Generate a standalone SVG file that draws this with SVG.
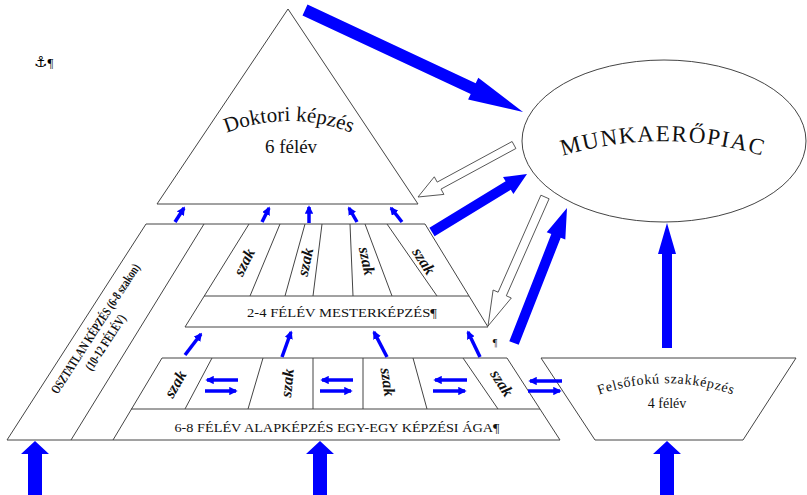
<svg xmlns="http://www.w3.org/2000/svg" width="807" height="495" viewBox="0 0 807 495">
<style>
.ln{fill:none;stroke:#444;stroke-width:1}
.shape{fill:#fff;stroke:#444;stroke-width:1}
.blue{fill:#0000FF;stroke:none}
.hollow{fill:#fff;stroke:#444;stroke-width:0.9}
.sa{stroke:#0000FF;stroke-width:3.5;fill:none;marker-end:url(#ah)}
.serif{font-family:"Liberation Serif","Times New Roman",serif;fill:#111}
.szak{font-family:"Liberation Serif","Times New Roman",serif;font-weight:bold;font-style:italic;font-size:16px;text-anchor:middle;dominant-baseline:central;fill:#111}
.band{font-family:"Liberation Serif","Times New Roman",serif;font-size:12px;text-anchor:middle;fill:#111}
</style>
<defs>
<marker id="ah" viewBox="0 0 10 10" refX="8" refY="5" markerWidth="2.4" markerHeight="2.4" orient="auto" markerUnits="strokeWidth">
<path d="M0,0 L10,5 L0,10 z" fill="#0000FF"/>
</marker>
<path id="arcD" d="M213,139 A170,170 0 0 1 365,139"/>
<path id="arcM" d="M556,158 A350,350 0 0 1 770,158"/>
<path id="arcF" d="M593,397 A200,200 0 0 1 739,397"/>
</defs>
<rect width="807" height="495" fill="#fff"/>

<g id="anchor-mark">
<text x="34" y="67" font-size="15"><tspan font-family="DejaVu Sans,sans-serif">⚓</tspan><tspan font-family="Liberation Serif,serif" font-size="13">¶</tspan></text>
</g>

<g id="doktori">
<polygon class="shape" points="288,9 418,204 157,204"/>
<text class="serif" font-size="21"><textPath href="#arcD" startOffset="50%" text-anchor="middle">Doktori képzés</textPath></text>
<text class="serif" font-size="19" x="291" y="153" text-anchor="middle">6 félév</text>
</g>

<g id="munkaeropiac">
<ellipse class="shape" cx="664" cy="141" rx="142" ry="81"/>
<text class="serif" font-size="23" letter-spacing="1.5"><textPath href="#arcM" startOffset="50%" text-anchor="middle">MUNKAERŐPIAC</textPath></text>
</g>

<g id="osztatlan">
<path class="ln" d="M146,224 L7,440 M204,224 L71,440"/>
<g transform="translate(99,331) rotate(-57)">
<text class="serif" font-weight="bold" font-size="13" text-anchor="middle" textLength="152" lengthAdjust="spacingAndGlyphs">OSZTATLAN KÉPZÉS (6-8 szakon)</text>
<text class="serif" font-weight="bold" font-size="13" x="-6" y="16" text-anchor="middle" textLength="64" lengthAdjust="spacingAndGlyphs">(10-12 FÉLÉV)</text>
</g>
</g>

<g id="frame">
<path class="ln" d="M146,224 L425,224 M7,440 L560,440"/>
</g>

<g id="mester">
<path class="ln" d="M249,224 L185,327 L488,327 L425,224 M204,296 L469,296"/>
<path class="ln" d="M280,224 L250,296 M305,224 L285,296 M322,224 L313,296 M350,224 L353,296 M365,224 L392,296 M387,224 L437,296"/>
<text class="szak" transform="translate(244,262) rotate(-63)">szak</text>
<text class="szak" transform="translate(305,262) rotate(-78)">szak</text>
<text class="szak" transform="translate(367,261) rotate(78)">szak</text>
<text class="szak" transform="translate(424,261) rotate(57)">szak</text>
<text class="band" x="342" y="317" textLength="190" lengthAdjust="spacingAndGlyphs">2-4 FÉLÉV MESTERKÉPZÉS¶</text>
</g>

<g id="alap">
<path class="ln" d="M113,440 L162,358 L507,358 L560,440 M131,409 L540,409"/>
<path class="ln" d="M212,358 L185,409 M263,358 L248,409 M313,358 L313,409 M363,358 L363,409 M413,358 L427,409 M463,358 L498,409"/>
<text class="szak" transform="translate(175,384) rotate(-60)">szak</text>
<text class="szak" transform="translate(287,383) rotate(-84)">szak</text>
<text class="szak" transform="translate(388,382) rotate(82)">szak</text>
<text class="szak" transform="translate(502,383) rotate(57)">szak</text>
<text class="band" x="337" y="432" textLength="325" lengthAdjust="spacingAndGlyphs">6-8 FÉLÉV ALAPKÉPZÉS EGY-EGY KÉPZÉSI ÁGA¶</text>
<text class="serif" font-size="10" x="495" y="346" text-anchor="middle">¶</text>
</g>

<g id="felsofoku">
<polygon class="shape" points="541,358 796,358 743,440 595,440"/>
<text class="serif" font-size="14" letter-spacing="0.7"><textPath href="#arcF" startOffset="50%" text-anchor="middle">Felsőfokú szakképzés</textPath></text>
<text class="serif" font-size="14" x="667" y="408" text-anchor="middle">4 félév</text>
</g>

<g id="connectors">
<polygon class="blue" points="307.5,4.6 475.7,83.3 478.3,77.8 523,112 468.1,99.6 470.7,94.1 302.5,15.4"/>
<polygon class="blue" points="429.4,227.7 505.6,181.2 503,177 527,174 513.4,194 510.8,189.8 434.6,236.3"/>
<polygon class="blue" points="509.3,341.2 551.3,234.1 546.7,232.2 567,208 565.3,239.6 560.7,237.7 518.7,344.8"/>
<polygon class="blue" points="662,348 662,254 658,254 667,223 676,254 672,254 672,348"/>
<polygon class="blue" points="28,496 28,454 21,454 35,441 49,454 42,454 42,496"/>
<polygon class="blue" points="313,496 313,454 306,454 320,441 334,454 327,454 327,496"/>
<polygon class="blue" points="660,496 660,454 653,454 667,441 681,454 674,454 674,496"/>
<polygon class="hollow" points="512.1,141.5 437.2,182.1 434.3,176.8 418,197 443.9,194.4 441,189.1 515.9,148.5"/>
<polygon class="hollow" points="540.9,195.2 498.1,292.2 493.1,290 488,326 511.3,298 506.3,295.8 549.1,198.8"/>
<line class="sa" x1="175" y1="222" x2="184" y2="208"/>
<line class="sa" x1="262" y1="222" x2="269" y2="208"/>
<line class="sa" x1="309" y1="223" x2="309" y2="207"/>
<line class="sa" x1="357" y1="222" x2="349" y2="208"/>
<line class="sa" x1="402" y1="222" x2="391" y2="208"/>
<line class="sa" x1="185" y1="355" x2="201" y2="334"/>
<line class="sa" x1="282" y1="357" x2="291" y2="332"/>
<line class="sa" x1="387" y1="357" x2="374" y2="332"/>
<line class="sa" x1="480" y1="357" x2="468" y2="332"/>
<line class="sa" x1="238" y1="380" x2="207" y2="380"/>
<line class="sa" x1="205" y1="391" x2="236" y2="391"/>
<line class="sa" x1="353" y1="380" x2="322" y2="380"/>
<line class="sa" x1="320" y1="391" x2="351" y2="391"/>
<line class="sa" x1="467" y1="380" x2="435" y2="380"/>
<line class="sa" x1="433" y1="391" x2="465" y2="391"/>
<line class="sa" x1="562" y1="381" x2="530" y2="381"/>
<line class="sa" x1="528" y1="391" x2="560" y2="391"/>
</g>
</svg>
